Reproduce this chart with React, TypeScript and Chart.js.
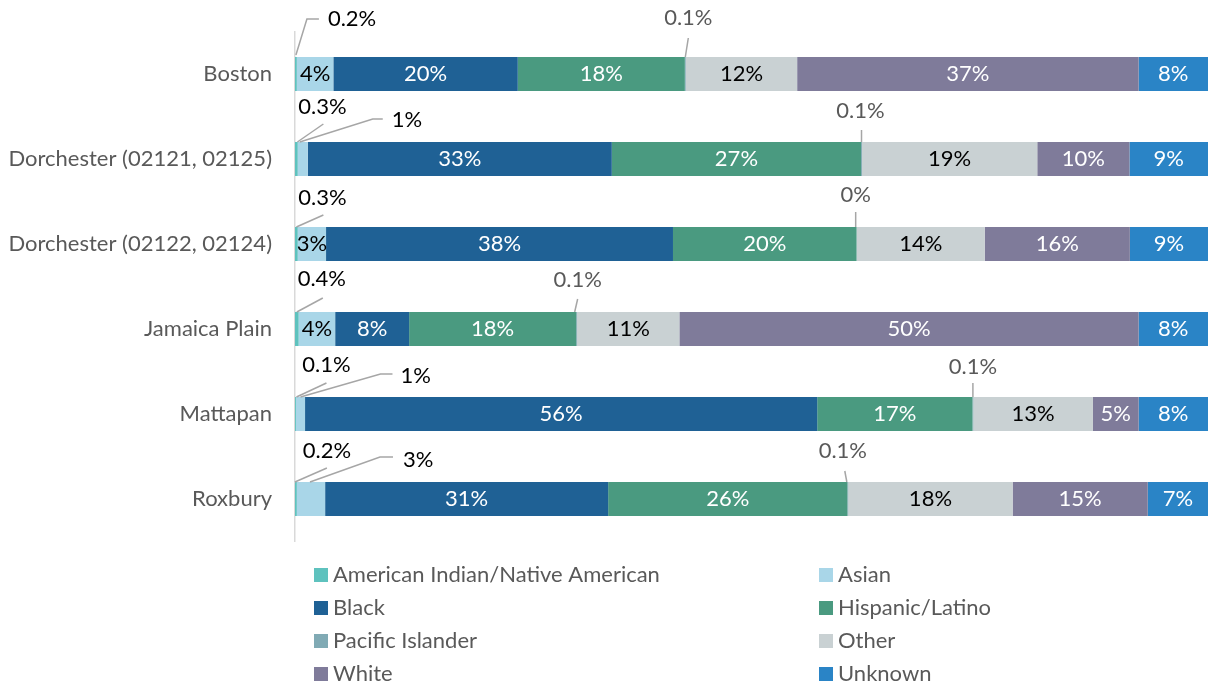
import { useEffect, useRef } from "react";
import { Chart, registerables } from "chart.js";

Chart.register(...registerables);

const categories = [
  "Boston",
  "Dorchester (02121, 02125)",
  "Dorchester (02122, 02124)",
  "Jamaica Plain",
  "Mattapan",
  "Roxbury",
];

const seriesNames = [
  "American Indian/Native American",
  "Asian",
  "Black",
  "Hispanic/Latino",
  "Pacific Islander",
  "Other",
  "White",
  "Unknown",
];

const americanIndian = [0.2, 0.3, 0.3, 0.4, 0.1, 0.2];
const asian = [4.0, 1.1, 3.1, 4.0, 1.0, 3.1];
const black = [20.2, 33.3, 38.0, 8.1, 56.1, 31.0];
const hispanic = [18.3, 27.3, 20.1, 18.3, 17.0, 26.2];
const pacificIslander = [0.1, 0.1, 0.04, 0.1, 0.1, 0.1];
const other = [12.2, 19.2, 14.0, 11.2, 13.1, 18.0];
const white = [37.4, 10.1, 15.9, 50.3, 5.0, 14.8];
const unknown = [7.6, 8.6, 8.56, 7.6, 7.6, 6.6];

const seriesValues = [americanIndian, asian, black, hispanic, pacificIslander, other, white, unknown];

const seriesColors = ["#5ec2be", "#a9d6e8", "#1f6195", "#4a9a80", "#80aab4", "#c9d1d3", "#7f7b9a", "#2a84c6"];
const insideLabelColors = ["#000000", "#000000", "#ffffff", "#ffffff", "#595959", "#000000", "#ffffff", "#ffffff"];
const calloutTextColors = ["#000000", "#000000", "#000000", "#000000", "#595959", "#000000", "#000000", "#000000"];

const FONT = "Lato, 'Open Sans', sans-serif";
const FONT_SIZE = 22;

// Callout (leader line) layout, keyed "series:category"; offsets relative to segment center-x and bar top.
type Callout = { pts: number[][]; text: number[]; align: CanvasTextAlign };
const callouts: Record<string, Callout> = {
  "0:0": { pts: [[0, -2], [11, -38], [23, -38]], text: [32, -38], align: "left" },
  "4:0": { pts: [[0, 0], [3, -19]], text: [3, -39], align: "center" },
  "0:1": { pts: [[1, 0], [27, -18]], text: [26, -35], align: "center" },
  "1:1": { pts: [[-3, 0], [70, -23], [80, -23]], text: [89, -22], align: "left" },
  "4:1": { pts: [[0, 0], [0, -12]], text: [-1, -31], align: "center" },
  "0:2": { pts: [[0, 0], [27, -12]], text: [26, -29], align: "center" },
  "4:2": { pts: [[-1, 0], [-1, -15]], text: [-1, -32], align: "center" },
  "0:3": { pts: [[0, 0], [26, -14]], text: [25, -33], align: "center" },
  "4:3": { pts: [[-2, 0], [1, -13]], text: [1, -32], align: "center" },
  "0:4": { pts: [[1, 0], [31, -14]], text: [31, -32], align: "center" },
  "1:4": { pts: [[0, 0], [80, -23], [92, -23]], text: [100, -21], align: "left" },
  "4:4": { pts: [[0, 0], [0, -14]], text: [0, -30], align: "center" },
  "0:5": { pts: [[-1, 0], [31, -14]], text: [31, -31], align: "center" },
  "1:5": { pts: [[-1, 0], [69, -25], [82, -25]], text: [92, -22], align: "left" },
  "4:5": { pts: [[-1, 0], [-3, -11]], text: [-5, -31], align: "center" },
};

function formatPct(v: number): string {
  if (v < 1) return `${Math.round(v * 10) / 10}%`;
  return `${Math.round(v)}%`;
}

const labelsPlugin = {
  id: "segmentLabels",
  afterDatasetsDraw(chart: any) {
    const ctx = chart.ctx as CanvasRenderingContext2D;
    ctx.save();
    ctx.font = `${FONT_SIZE}px ${FONT}`;
    ctx.textBaseline = "middle";
    chart.data.datasets.forEach((ds: any, i: number) => {
      const meta = chart.getDatasetMeta(i);
      meta.data.forEach((bar: any, j: number) => {
        const p = bar.getProps(["x", "base", "y", "height"], true);
        const cx = (p.x + p.base) / 2;
        const top = p.y - p.height / 2;
        const text = formatPct(ds.data[j]);
        const c = callouts[`${i}:${j}`];
        if (c) {
          ctx.strokeStyle = "#a6a6a6";
          ctx.lineWidth = 1.5;
          ctx.beginPath();
          c.pts.forEach((pt, k) => {
            if (k === 0) ctx.moveTo(cx + pt[0], top + pt[1]);
            else ctx.lineTo(cx + pt[0], top + pt[1]);
          });
          ctx.stroke();
          ctx.fillStyle = calloutTextColors[i];
          ctx.textAlign = c.align;
          ctx.fillText(text, cx + c.text[0], top + c.text[1]);
        } else {
          ctx.fillStyle = insideLabelColors[i];
          ctx.textAlign = "center";
          ctx.fillText(text, cx, p.y);
        }
      });
    });
    ctx.restore();
  },
};

const legendPlugin = {
  id: "twoColumnLegend",
  afterDraw(chart: any) {
    const ctx = chart.ctx as CanvasRenderingContext2D;
    const area = chart.chartArea;
    ctx.save();
    ctx.font = `${FONT_SIZE}px ${FONT}`;
    ctx.textBaseline = "middle";
    ctx.textAlign = "left";
    chart.data.datasets.forEach((ds: any, i: number) => {
      const col = i % 2;
      const row = Math.floor(i / 2);
      const bx = area.left + 19 + col * 505;
      const by = area.bottom + 33.5 + row * 33;
      ctx.fillStyle = ds.backgroundColor;
      ctx.fillRect(bx, by - 7, 14, 14);
      ctx.fillStyle = "#595959";
      ctx.fillText(ds.label, bx + 19, by);
    });
    ctx.restore();
  },
};

export default function App() {
  const canvasRef = useRef<HTMLCanvasElement | null>(null);

  useEffect(() => {
    document.body.style.margin = "0";
    const canvas = canvasRef.current;
    if (!canvas) return;
    const chart = new Chart(canvas, {
      type: "bar",
      data: {
        labels: categories,
        datasets: seriesNames.map((name, i) => ({
          label: name,
          data: seriesValues[i],
          backgroundColor: seriesColors[i],
          borderWidth: 0,
          categoryPercentage: 1,
          barPercentage: 0.4,
        })),
      },
      options: {
        indexAxis: "y",
        animation: false,
        responsive: true,
        maintainAspectRatio: false,
        layout: { padding: { top: 31.5, bottom: 142.5, left: 0, right: 0 } },
        plugins: {
          legend: { display: false },
          tooltip: { enabled: false },
        },
        scales: {
          x: { stacked: true, min: 0, max: 100, display: false },
          y: {
            stacked: true,
            grid: { display: false, drawTicks: false },
            border: { display: true, color: "#d9d9d9", width: 1.5 },
            ticks: { color: "#595959", font: { family: FONT, size: FONT_SIZE }, padding: 23 },
            afterFit: (scale: any) => {
              scale.width = 295;
              scale.paddingTop = 0;
              scale.paddingBottom = 0;
            },
          },
        },
      },
      plugins: [labelsPlugin, legendPlugin],
    });
    return () => chart.destroy();
  }, []);

  return (
    <div style={{ position: "fixed", left: 0, top: 0, width: 1208, height: 684, background: "#ffffff" }}>
      <canvas ref={canvasRef} />
    </div>
  );
}
